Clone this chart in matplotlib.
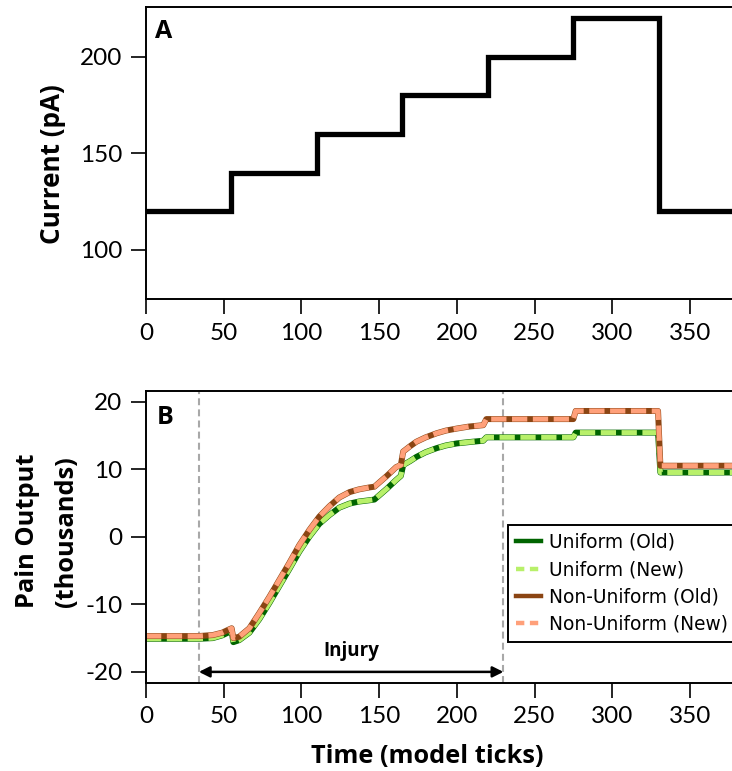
import matplotlib
matplotlib.use("Agg")
import matplotlib.pyplot as plt
from matplotlib import font_manager

# ---------------- data ----------------
# Panel A: injected current steps
step_time = [0, 55, 110, 165, 220, 275, 330, 400]
current_pA = [120, 140, 160, 180, 200, 220, 120, 120]

# Panel B: pain output (thousands)
time_b = [0, 20, 34, 43, 49, 53.6, 55.1, 56.2, 60, 66.5,
          72.9, 79.4, 85.8, 92.2, 98.7, 105.1, 111.5, 118, 124.4, 131,
          137, 144, 147, 150, 155, 161, 164, 165.5, 170, 174,
          180, 187, 193, 200, 208, 217, 219, 275, 276.5, 329.5,
          331, 400]
uniform_old = [-15.1, -15.1, -15.1, -15.0, -14.6, -14.1, -13.9, -15.6, -15.3, -14.2,
               -12.2, -9.8, -7.3, -4.8, -2.2, 0.0, 1.9, 3.2, 4.3, 4.9,
               5.2, 5.4, 5.5, 6.1, 7.1, 8.4, 9.0, 10.6, 11.2, 11.8,
               12.5, 13.1, 13.5, 13.8, 14.0, 14.2, 14.7, 14.7, 15.4, 15.4,
               9.5, 9.5]
uniform_new = [-15.1, -15.1, -15.1, -15.0, -14.6, -14.1, -13.9, -15.6, -15.3, -14.2,
               -12.2, -9.8, -7.3, -4.8, -2.2, 0.0, 1.9, 3.2, 4.3, 4.9,
               5.2, 5.4, 5.5, 6.1, 7.1, 8.4, 9.0, 10.6, 11.2, 11.8,
               12.5, 13.1, 13.5, 13.8, 14.0, 14.2, 14.7, 14.7, 15.4, 15.4,
               9.5, 9.5]
nonuniform_old = [-14.7, -14.7, -14.7, -14.55, -14.2, -13.7, -13.55, -15.0, -14.8, -13.55,
                  -11.3, -8.9, -6.4, -3.9, -1.23, 0.99, 2.97, 4.5, 5.8, 6.6,
                  7.0, 7.3, 7.4, 8.0, 9.0, 10.3, 10.6, 12.6, 13.4, 14.05,
                  14.7, 15.3, 15.7, 16.0, 16.3, 16.5, 17.4, 17.4, 18.6, 18.6,
                  10.5, 10.5]
nonuniform_new = [-14.7, -14.7, -14.7, -14.55, -14.2, -13.7, -13.55, -15.0, -14.8, -13.55,
                  -11.3, -8.9, -6.4, -3.9, -1.23, 0.99, 2.97, 4.5, 5.8, 6.6,
                  7.0, 7.3, 7.4, 8.0, 9.0, 10.3, 10.6, 12.6, 13.4, 14.05,
                  14.7, 15.3, 15.7, 16.0, 16.3, 16.5, 17.4, 17.4, 18.6, 18.6,
                  10.5, 10.5]
series_labels = ["Uniform (Old)", "Uniform (New)", "Non-Uniform (Old)", "Non-Uniform (New)"]
injury_start, injury_end = 34, 230
xticks = [0, 50, 100, 150, 200, 250, 300, 350]
yticks_a = [100, 150, 200]
yticks_b = [-20, -10, 0, 10, 20]

# ---------------- style ----------------
avail = {f.name for f in font_manager.fontManager.ttflist}
def pick(*names):
    for n in names:
        if n in avail:
            return n
    return "DejaVu Sans"
MAIN = pick("Lato", "Open Sans", "Liberation Sans")
BOLD = pick("Open Sans", "Lato", "Liberation Sans")

plt.rcParams["font.family"] = [MAIN, "DejaVu Sans"]
plt.rcParams["lines.scale_dashes"] = False

W, H = 732, 771
fig = plt.figure(figsize=(W / 100, H / 100), dpi=100)

def px_axes(left, top, bottom, xmax_px):
    return fig.add_axes([left / W, 1 - bottom / H, (xmax_px - left) / W, (bottom - top) / H])

XMAX = 400
ppu = 1.554
axA = px_axes(146, 7.3, 299.3, 146 + XMAX * ppu)
axB = px_axes(146, 390.7, 682.7, 146 + XMAX * ppu)

for ax in (axA, axB):
    ax.set_xlim(0, XMAX)
    ax.set_xticks(xticks)
    for s in ("left", "top", "bottom"):
        ax.spines[s].set_linewidth(1.4)
    ax.spines["right"].set_visible(False)
    ax.tick_params(axis="both", direction="out", length=11, width=1.2,
                   labelsize=17.5, pad=6)

# Panel A
axA.plot(step_time, current_pA, drawstyle="steps-post", color="black", lw=3.8,
         solid_joinstyle="miter")
axA.set_ylim(74.5, 225.5)
axA.set_yticks(yticks_a)

# Panel B
colors = ["#006400", "#b8f06a", "#8b4513", "#ffa07a"]
axB.axvline(injury_start, color="#a8a8a8", lw=1.5, dashes=(5, 3), zorder=1)
axB.axvline(injury_end, color="#a8a8a8", lw=1.5, dashes=(5, 3), zorder=1)
l1, = axB.plot(time_b, uniform_old, color=colors[0], lw=4.3, label=series_labels[0])
l2, = axB.plot(time_b, uniform_new, color=colors[1], lw=3.6, dashes=(11, 4), label=series_labels[1])
l3, = axB.plot(time_b, nonuniform_old, color=colors[2], lw=4.3, label=series_labels[2])
l4, = axB.plot(time_b, nonuniform_new, color=colors[3], lw=3.6, dashes=(11, 4), label=series_labels[3])
axB.set_ylim(-21.6, 21.6)
axB.set_yticks(yticks_b)
axB.set_yticklabels(["-20", "-10", "0", "10", "20"])

axB.annotate("", xy=(injury_start, -20), xytext=(injury_end, -20),
             arrowprops=dict(arrowstyle="<|-|>", color="black", lw=1.8,
                             mutation_scale=16, shrinkA=0, shrinkB=0))
axB.text((injury_start + injury_end) / 2, -17.7, "Injury", ha="center", va="baseline",
         fontsize=13.5, fontweight="bold", family=[BOLD, "DejaVu Sans"])

# panel letters
fig.text(155 / W, 1 - 19 / H, "A", ha="left", va="top", fontsize=18,
         fontweight="bold", family=[BOLD, "DejaVu Sans"])
fig.text(157 / W, 1 - 405 / H, "B", ha="left", va="top", fontsize=18,
         fontweight="bold", family=[BOLD, "DejaVu Sans"])

leg = fig.legend(handles=[l1, l2, l3, l4], loc="upper left",
                 bbox_to_anchor=(508 / W, 1 - 525 / H), frameon=True, fancybox=False,
                 framealpha=1, edgecolor="black", prop={"family": "DejaVu Sans", "size": 13.4},
                 handlelength=1.35, handletextpad=0.45, labelspacing=0.45, borderpad=0.42,
                 borderaxespad=0)
leg.get_frame().set_linewidth(1.4)
for h in leg.get_lines():
    h.set_linewidth(3.2)
leg.get_lines()[1].set_dashes((6, 4))
leg.get_lines()[3].set_dashes((6, 4))

# axis labels
lab = dict(fontweight="bold", family=[BOLD, "DejaVu Sans"])
fig.text(52 / W, 1 - 164 / H, "Current (pA)", rotation=90, ha="center", va="center",
         fontsize=18.8, **lab)
fig.text(28 / W, 1 - 531 / H, "Pain Output", rotation=90, ha="center", va="center",
         fontsize=18.3, **lab)
fig.text(66 / W, 1 - 532 / H, "(thousands)", rotation=90, ha="center", va="center",
         fontsize=18.3, **lab)
fig.text(427 / W, 1 - 763 / H, "Time (model ticks)", ha="center", va="baseline",
         fontsize=18.3, **lab)

fig.savefig("out.png", dpi=100)
